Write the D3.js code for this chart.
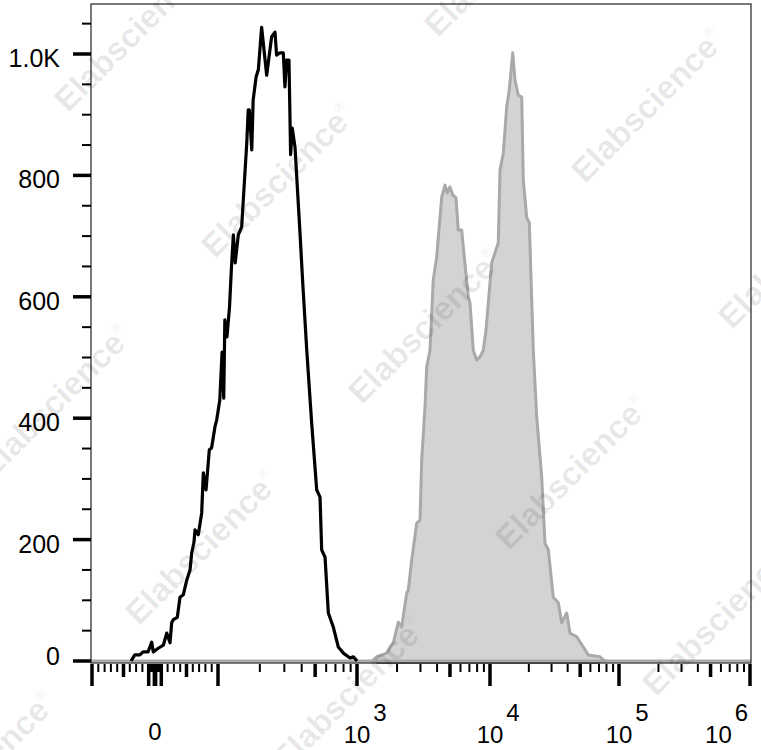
<!DOCTYPE html>
<html><head><meta charset="utf-8">
<script src="https://cdn.jsdelivr.net/npm/d3@7"></script>
<style>body{margin:0;background:#fff}svg{display:block}</style>
</head><body>
<script>
// ---- data (fluorescence intensity, event count) ----
const controlX = [-38,-35,-32,-24,-19,-11,-5.2,-2.7,5.2,13.2,18.6,23.8,26.5,29,35.4,39.7,44.9,50.3,55.6,58.3,61.9,63.5,68.7,74.1,76.7,81,86.2,89.8,95.2,97.9,103,107,110,112,116,121,125,129,133,140,148,161,165,168,175,179,188,195,206,224,243,257,264,279,295,303,312,324,333,342,358,389,407,435,472,513,542,557,589,622,675,734,797,891,941,1000];
const controlCount = [0,5,10,10,15,15,31,15,21,26,46,30,63,68,72,105,109,133,150,178,196,216,208,244,310,282,348,351,386,397,430,509,433,562,534,583,649,702,656,702,715,853,908,908,842,924,962,974,1044,965,1028,1036,998,1002,1002,946,990,990,834,878,847,705,623,512,392,282,270,183,171,79,56,23,13,5,7,0];
const stainedX = [1297,1407,1672,1875,2045,2169,2364,2431,2578,2811,2976,3065,3245,3342,3538,3746,3974,4208,4334,4589,4775,5003,5243,5551,5776,6127,6299,6868,7073,7488,7943,8411,8905,9331,10308,11594,11957,12679,13473,14113,14995,15623,16570,17610,18120,19253,20168,21664,23014,25164,26696,28315,30954,33846,35958,39315,41700,46991,52887,57812,71233,75546,79289];
const stainedCount = [0,7,13,30,64,56,112,117,166,227,232,331,418,484,512,628,666,731,764,784,771,781,768,763,710,710,682,600,590,512,496,501,512,545,656,689,809,837,913,941,1002,957,932,929,792,731,722,512,402,303,194,183,105,96,63,79,46,40,23,10,7,2,0];

const yTickValues = [0,200,400,600,800,1000];
const yTickLabels = ["0","200","400","600","800","1.0K"];
const yMinorValues = [50,100,150,250,300,350,450,500,550,650,700,750,850,900,950,1050];
const xLabelValues = [0,1e3,1e4,1e5,1e6];
const xLabelBase = ["0","10","10","10","10"];
const xLabelExp = ["","3","4","5","6"];
const xMajorValues = [-100,-10,-1,0,1,10,100,1e3,1e4,1e5,1e6];
const xMediumValues = [-50,50,500,5e3,5e4,5e5];
const watermarkText = "Elabscience";

// ---- layout ----
const W = 761, H = 750;
const plot = {left: 91, right: 751, top: 4, bottom: 663};
const FONT = "'Liberation Sans', Arial, Helvetica, sans-serif";

// biexponential-like display: linear around zero, log decades above 100
const xLin = d3.scaleLinear().domain([-100, 100]).range([92, 218]);
const xLog = d3.scaleLog().domain([100, 1e3, 1e4, 1e5, 1e6]).range([218, 357, 490, 619, 750]);
const x = v => (Math.abs(v) <= 100 ? xLin(v) : xLog(v));
const y = d3.scaleLinear().domain([0, 1000]).range([661, 54]);

// minor ticks
const xMinorValues = [];
[1, 10].forEach(d => [2,3,4,5,6,7,8,9].forEach(k => {
  const v = k * d;
  if (!xMediumValues.includes(v)) { xMinorValues.push(v, -v); }
}));
[100, 1e3, 1e4, 1e5].forEach(d => [2,3,4,6,7,8,9].forEach(k => xMinorValues.push(k * d)));

const svg = d3.select("body").append("svg").attr("width", W).attr("height", H)
  .style("font-family", FONT);
svg.append("rect").attr("width", W).attr("height", H).attr("fill", "#fff");

const stained = stainedX.map((v, i) => ({v, c: stainedCount[i]}));
const control = controlX.map((v, i) => ({v, c: controlCount[i]}));

// zero line of the histograms across the whole axis
svg.append("line")
  .attr("x1", plot.left).attr("x2", plot.right)
  .attr("y1", y(0)).attr("y2", y(0))
  .attr("stroke", "#aaaaaa").attr("stroke-width", 3);

// dark zero segment beneath the filled histogram
svg.append("line")
  .attr("x1", x(stainedX[1])).attr("x2", x(stainedX[stainedX.length - 3]))
  .attr("y1", y(0) + 2).attr("y2", y(0) + 2)
  .attr("stroke", "#222").attr("stroke-width", 1.3);

svg.append("path").datum(stained)
  .attr("d", d3.area().x(d => x(d.v)).y0(y(0)).y1(d => y(d.c)))
  .attr("fill", "#d3d3d3").attr("stroke", "#a9a9a9")
  .attr("stroke-width", 3).attr("stroke-linejoin", "round");

svg.append("path").datum(control)
  .attr("d", d3.line().x(d => x(d.v)).y(d => y(d.c)))
  .attr("fill", "none").attr("stroke", "#000")
  .attr("stroke-width", 3.2).attr("stroke-linejoin", "round");

// frame
svg.append("rect")
  .attr("x", plot.left).attr("y", plot.top)
  .attr("width", plot.right - plot.left).attr("height", plot.bottom - plot.top)
  .attr("fill", "none").attr("stroke", "#333").attr("stroke-width", 1.3);

// y axis
const yAxis = svg.append("g").attr("transform", `translate(${plot.left},0)`);
yAxis.selectAll("line.minor").data(yMinorValues).join("line")
  .attr("x1", -9).attr("x2", 0).attr("y1", d => y(d)).attr("y2", d => y(d))
  .attr("stroke", "#000").attr("stroke-width", 2);
yAxis.selectAll("line.major").data(yTickValues).join("line")
  .attr("x1", -18).attr("x2", 0).attr("y1", d => y(d)).attr("y2", d => y(d))
  .attr("stroke", "#000").attr("stroke-width", 3.5);
const yFont = 25;
yAxis.selectAll("text").data(yTickValues).join("text")
  .attr("x", -31)
  .attr("y", d => Math.min(y(d) + 4, plot.bottom + 2 - yFont * 0.36))
  .attr("dy", "0.36em")
  .attr("text-anchor", "end").attr("font-size", yFont).attr("fill", "#000")
  .text((d, i) => yTickLabels[i]);

// x axis
const xAxis = svg.append("g").attr("transform", `translate(0,${plot.bottom + 1})`);
xAxis.selectAll("line.minor").data(xMinorValues).join("line")
  .attr("x1", d => x(d)).attr("x2", d => x(d)).attr("y1", 0).attr("y2", 8)
  .attr("stroke", "#000").attr("stroke-width", 2);
xAxis.selectAll("line.medium").data(xMediumValues).join("line")
  .attr("x1", d => x(d)).attr("x2", d => x(d)).attr("y1", 0).attr("y2", 13)
  .attr("stroke", "#000").attr("stroke-width", 3.5);
xAxis.selectAll("line.major").data(xMajorValues).join("line")
  .attr("x1", d => x(d)).attr("x2", d => x(d)).attr("y1", 0).attr("y2", 22)
  .attr("stroke", "#000").attr("stroke-width", 3.5);

const labels = svg.append("g").attr("font-size", 24).attr("fill", "#000");
xLabelValues.forEach((v, i) => {
  const baseW = xLabelBase[i].length * 13.3;
  const expW = xLabelExp[i] ? 3 + 13.3 : 0;
  let cx = x(v);
  const rightEdge = cx + baseW / 2 + expW;
  if (rightEdge > W - 13) cx -= rightEdge - (W - 13);
  labels.append("text").attr("x", cx).attr("y", xLabelExp[i] ? 743 : 740)
    .attr("text-anchor", "middle").text(xLabelBase[i]);
  if (xLabelExp[i]) {
    labels.append("text").attr("x", cx + baseW / 2 + 3).attr("y", 721)
      .attr("text-anchor", "start").text(xLabelExp[i]);
  }
});

// watermark lattice
const wm = svg.append("g").attr("fill", "#000").attr("fill-opacity", 0.09)
  .attr("font-size", 33).attr("font-weight", "bold");
const origin = [278, 180], u = [147, 146], vv = [370, -75];
for (let i = -3; i <= 5; i++) {
  for (let j = -3; j <= 3; j++) {
    const cx = origin[0] + i * u[0] + j * vv[0];
    const cy = origin[1] + i * u[1] + j * vv[1];
    if (cx < -130 || cx > W + 130 || cy < -130 || cy > H + 130) continue;
    const t = wm.append("text")
      .attr("transform", `translate(${cx},${cy}) rotate(-45)`)
      .attr("text-anchor", "middle").attr("dy", "0.35em");
    t.append("tspan").text(watermarkText);
    t.append("tspan").attr("font-size", 14).attr("font-weight", "normal")
      .attr("dy", "-1.1em").text("®");
  }
}
</script>
</body></html>
